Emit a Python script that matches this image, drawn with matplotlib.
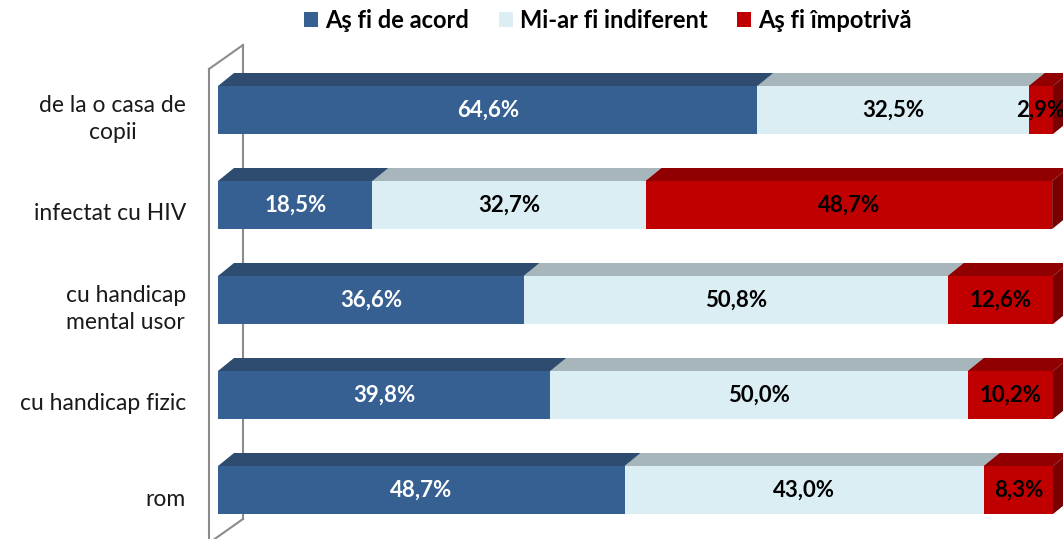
import numpy as np
import matplotlib
matplotlib.use("Agg")
from matplotlib import pyplot as plt
from matplotlib.patches import Polygon, Patch

categories = [
    "de la o casa de\ncopii",
    "infectat cu HIV",
    "cu handicap\nmental usor",
    "cu handicap fizic",
    "rom",
]
series_names = ["Aş fi de acord", "Mi-ar fi indiferent", "Aş fi împotrivă"]
acord = [64.6, 18.5, 36.6, 39.8, 48.7]
indiferent = [32.5, 32.7, 50.8, 50.0, 43.0]
impotriva = [2.9, 48.7, 12.6, 10.2, 8.3]

front_colors = ["#376092", "#DBEEF4", "#C00000"]
top_colors = ["#2D4C70", "#A7B6BB", "#900000"]
side_colors = ["#24405F", "#8E9DA2", "#780000"]
text_colors = ["white", "black", "black"]

plt.rcParams["font.family"] = ["Lato", "DejaVu Sans"]

W, H = 1063, 539
fig = plt.figure(figsize=(W / 100, H / 100), dpi=100)

# axes: 0% at x=218px, 100% at x=1053px; category i centred at 110 + 95*i px
x0px, x1px = 218, 1053
ypitch, y0c = 95.0, 110.0
ax = fig.add_axes([x0px / W, 0, (x1px - x0px) / W, 1])
ax.set_xlim(0, 100)
ax.set_ylim((H - y0c) / ypitch, (0 - y0c) / ypitch)
ax.axis("off")

px_x = 100.0 / (x1px - x0px)   # data units per pixel along x
px_y = 1.0 / ypitch            # data units per pixel along y

dx = 16 * px_x
dy = -13 * px_y
bar_h = 48 * px_y

ypos = np.arange(len(categories))
data = np.array([acord, indiferent, impotriva])
lefts = np.vstack([np.zeros(len(categories)), np.cumsum(data, axis=0)[:-1]])

for k in range(3):
    ax.barh(ypos, data[k], left=lefts[k], height=bar_h, color=front_colors[k],
            edgecolor="none", zorder=3)
    for i in ypos:
        l = lefts[k][i]
        r = l + data[k][i]
        top = i - bar_h / 2
        bot = i + bar_h / 2
        ax.add_patch(Polygon([(l, top), (l + dx, top + dy), (r + dx, top + dy), (r, top)],
                             closed=True, facecolor=top_colors[k], edgecolor="none",
                             zorder=2, clip_on=False))
        ax.add_patch(Polygon([(r, top), (r + dx, top + dy), (r + dx, bot + dy), (r, bot)],
                             closed=True, facecolor=side_colors[k], edgecolor="none",
                             zorder=1, clip_on=False))
        txt = f"{data[k][i]:.1f}%".replace(".", ",")
        ax.text(l + data[k][i] / 2, i, txt, ha="center", va="center",
                fontsize=16, fontweight="bold", color=text_colors[k], zorder=5,
                clip_on=False)

# side wall on the left
wf = -9 * px_x
wb = 25 * px_x
wall_top_f = (69 - y0c) * px_y
wall_bot_b = (519 - y0c) * px_y
wdy = -24 * px_y
wall_kw = dict(color="#8C8C8C", lw=1.5, clip_on=False, zorder=0)
ax.plot([wf, wf], [wall_top_f, (H + 10 - y0c) * px_y], **wall_kw)
ax.plot([wb, wb], [wall_top_f + wdy, wall_bot_b], **wall_kw)
ax.plot([wf, wb], [wall_top_f, wall_top_f + wdy], **wall_kw)
ax.plot([wb, wf], [wall_bot_b, wall_bot_b - wdy], **wall_kw)

# category labels
for i, lab in enumerate(categories):
    ax.text(-32 * px_x, i + 9 * px_y, lab, ha="right", va="center",
            multialignment="center", fontsize=16.5, linespacing=1.3,
            color="#1A1A1A", clip_on=False)

handles = [Patch(facecolor=c, edgecolor="none") for c in front_colors]
fig.legend(handles, series_names, loc="center", bbox_to_anchor=(608 / W, 1 - 20 / H),
           ncol=3, frameon=False, prop={"weight": "bold", "size": 17},
           handlelength=0.6, handleheight=0.6, handletextpad=0.3,
           columnspacing=1.25)

fig.savefig("out.png", dpi=100)
